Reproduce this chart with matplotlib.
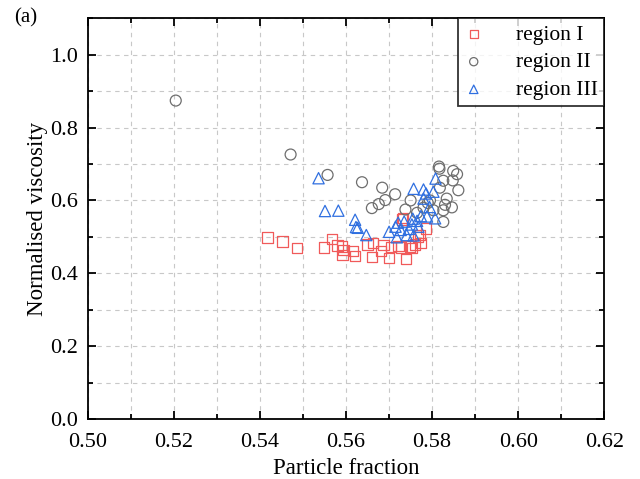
import matplotlib
matplotlib.use('Agg')
import matplotlib.pyplot as plt
from matplotlib.ticker import MultipleLocator

plt.rcParams['font.family'] = ['Liberation Serif', 'DejaVu Serif']

# region I (red squares)
x1 = [0.5417, 0.5452, 0.5486, 0.5549, 0.5567, 0.5580, 0.5591, 0.5594, 0.5592,
      0.5616, 0.5621, 0.5650, 0.5662, 0.5660, 0.5681, 0.5687, 0.5700, 0.5705,
      0.5722, 0.5728, 0.5732, 0.5739, 0.5749, 0.5754, 0.5760, 0.5772, 0.5774,
      0.5786, 0.5768, 0.5730]
y1 = [0.498, 0.487, 0.470, 0.471, 0.494, 0.476, 0.474, 0.464, 0.451,
      0.462, 0.447, 0.479, 0.483, 0.444, 0.461, 0.478, 0.443, 0.472,
      0.475, 0.471, 0.552, 0.440, 0.474, 0.470, 0.479, 0.506, 0.483,
      0.523, 0.500, 0.548]

# region II (grey circles)
x2 = [0.5204, 0.5471, 0.5557, 0.5637, 0.5684, 0.5714, 0.5691, 0.5676, 0.5660,
      0.5750, 0.5738, 0.5816, 0.5817, 0.5849, 0.5858, 0.5826, 0.5848, 0.5818,
      0.5861, 0.5834, 0.5830, 0.5846, 0.5826, 0.5826, 0.5790, 0.5780, 0.5765,
      0.5803, 0.5795]
y2 = [0.874, 0.726, 0.670, 0.650, 0.635, 0.617, 0.601, 0.590, 0.579,
      0.600, 0.575, 0.693, 0.687, 0.681, 0.672, 0.654, 0.655, 0.635,
      0.628, 0.605, 0.588, 0.581, 0.573, 0.541, 0.593, 0.580, 0.566,
      0.573, 0.600]

# region III (blue triangles)
x3 = [0.5536, 0.5551, 0.5582, 0.5621, 0.5623, 0.5627, 0.5647, 0.5700, 0.5715,
      0.5721, 0.5727, 0.5735, 0.5741, 0.5746, 0.5755, 0.5757, 0.5780, 0.5786,
      0.5803, 0.5808, 0.5780, 0.5794, 0.5788, 0.5807, 0.5765, 0.5768, 0.5753,
      0.5718, 0.5757, 0.5774]
y3 = [0.661, 0.571, 0.572, 0.547, 0.527, 0.525, 0.505, 0.514, 0.528,
      0.539, 0.519, 0.542, 0.505, 0.522, 0.550, 0.632, 0.630, 0.619,
      0.624, 0.660, 0.605, 0.582, 0.556, 0.551, 0.544, 0.528, 0.534,
      0.499, 0.504, 0.557]

fig = plt.figure(figsize=(6.4, 4.79), dpi=100)
ax = fig.add_axes([0.1375, 0.125, 0.8065, 0.837])

ax.scatter(x1, y1, s=55, marker='s', facecolors='none', edgecolors='#f05a5a',
           linewidths=0.9, label='region I', zorder=3)
ax.scatter(x2, y2, s=62, marker='o', facecolors='none', edgecolors='#6e6e6e',
           linewidths=0.9, label='region II', zorder=3)
ax.scatter(x3, y3, s=66, marker='^', facecolors='none', edgecolors='#2f6fe0',
           linewidths=0.9, label='region III', zorder=4)

ax.set_xlim(0.50, 0.62)
ax.set_ylim(0.0, 1.1)
ax.xaxis.set_major_locator(MultipleLocator(0.02))
ax.xaxis.set_minor_locator(MultipleLocator(0.01))
ax.yaxis.set_major_locator(MultipleLocator(0.2))
ax.yaxis.set_minor_locator(MultipleLocator(0.1))
ax.xaxis.set_major_formatter(plt.FormatStrFormatter('%.2f'))
ax.yaxis.set_major_formatter(plt.FormatStrFormatter('%.1f'))

ax.tick_params(which='both', direction='in', top=True, right=True,
               width=1.3, labelsize=16)
ax.tick_params(axis='x', which='major', length=6, pad=10)
ax.tick_params(axis='y', which='major', length=6, pad=7)
ax.tick_params(which='minor', length=3.5)
for sp in ax.spines.values():
    sp.set_linewidth(1.3)

ax.grid(which='both', linestyle=(0, (4, 4)), color='#c8c8c8', linewidth=0.8)
ax.set_axisbelow(True)

ax.set_xlabel('Particle fraction', fontsize=16.5, labelpad=4)
ax.set_ylabel('Normalised viscosity', fontsize=16.5, labelpad=2)

leg = ax.legend(loc='upper right', fontsize=15.5, frameon=True, fancybox=False,
                edgecolor='black', borderaxespad=0, handletextpad=1.5,
                labelspacing=0.35, borderpad=0.3, handlelength=0.9,
                scatterpoints=1, markerscale=0.75)
leg.get_frame().set_linewidth(1.3)

fig.text(0.022, 0.963, '(a)', fontsize=15, va='center')

fig.savefig('out.png', dpi=100)
